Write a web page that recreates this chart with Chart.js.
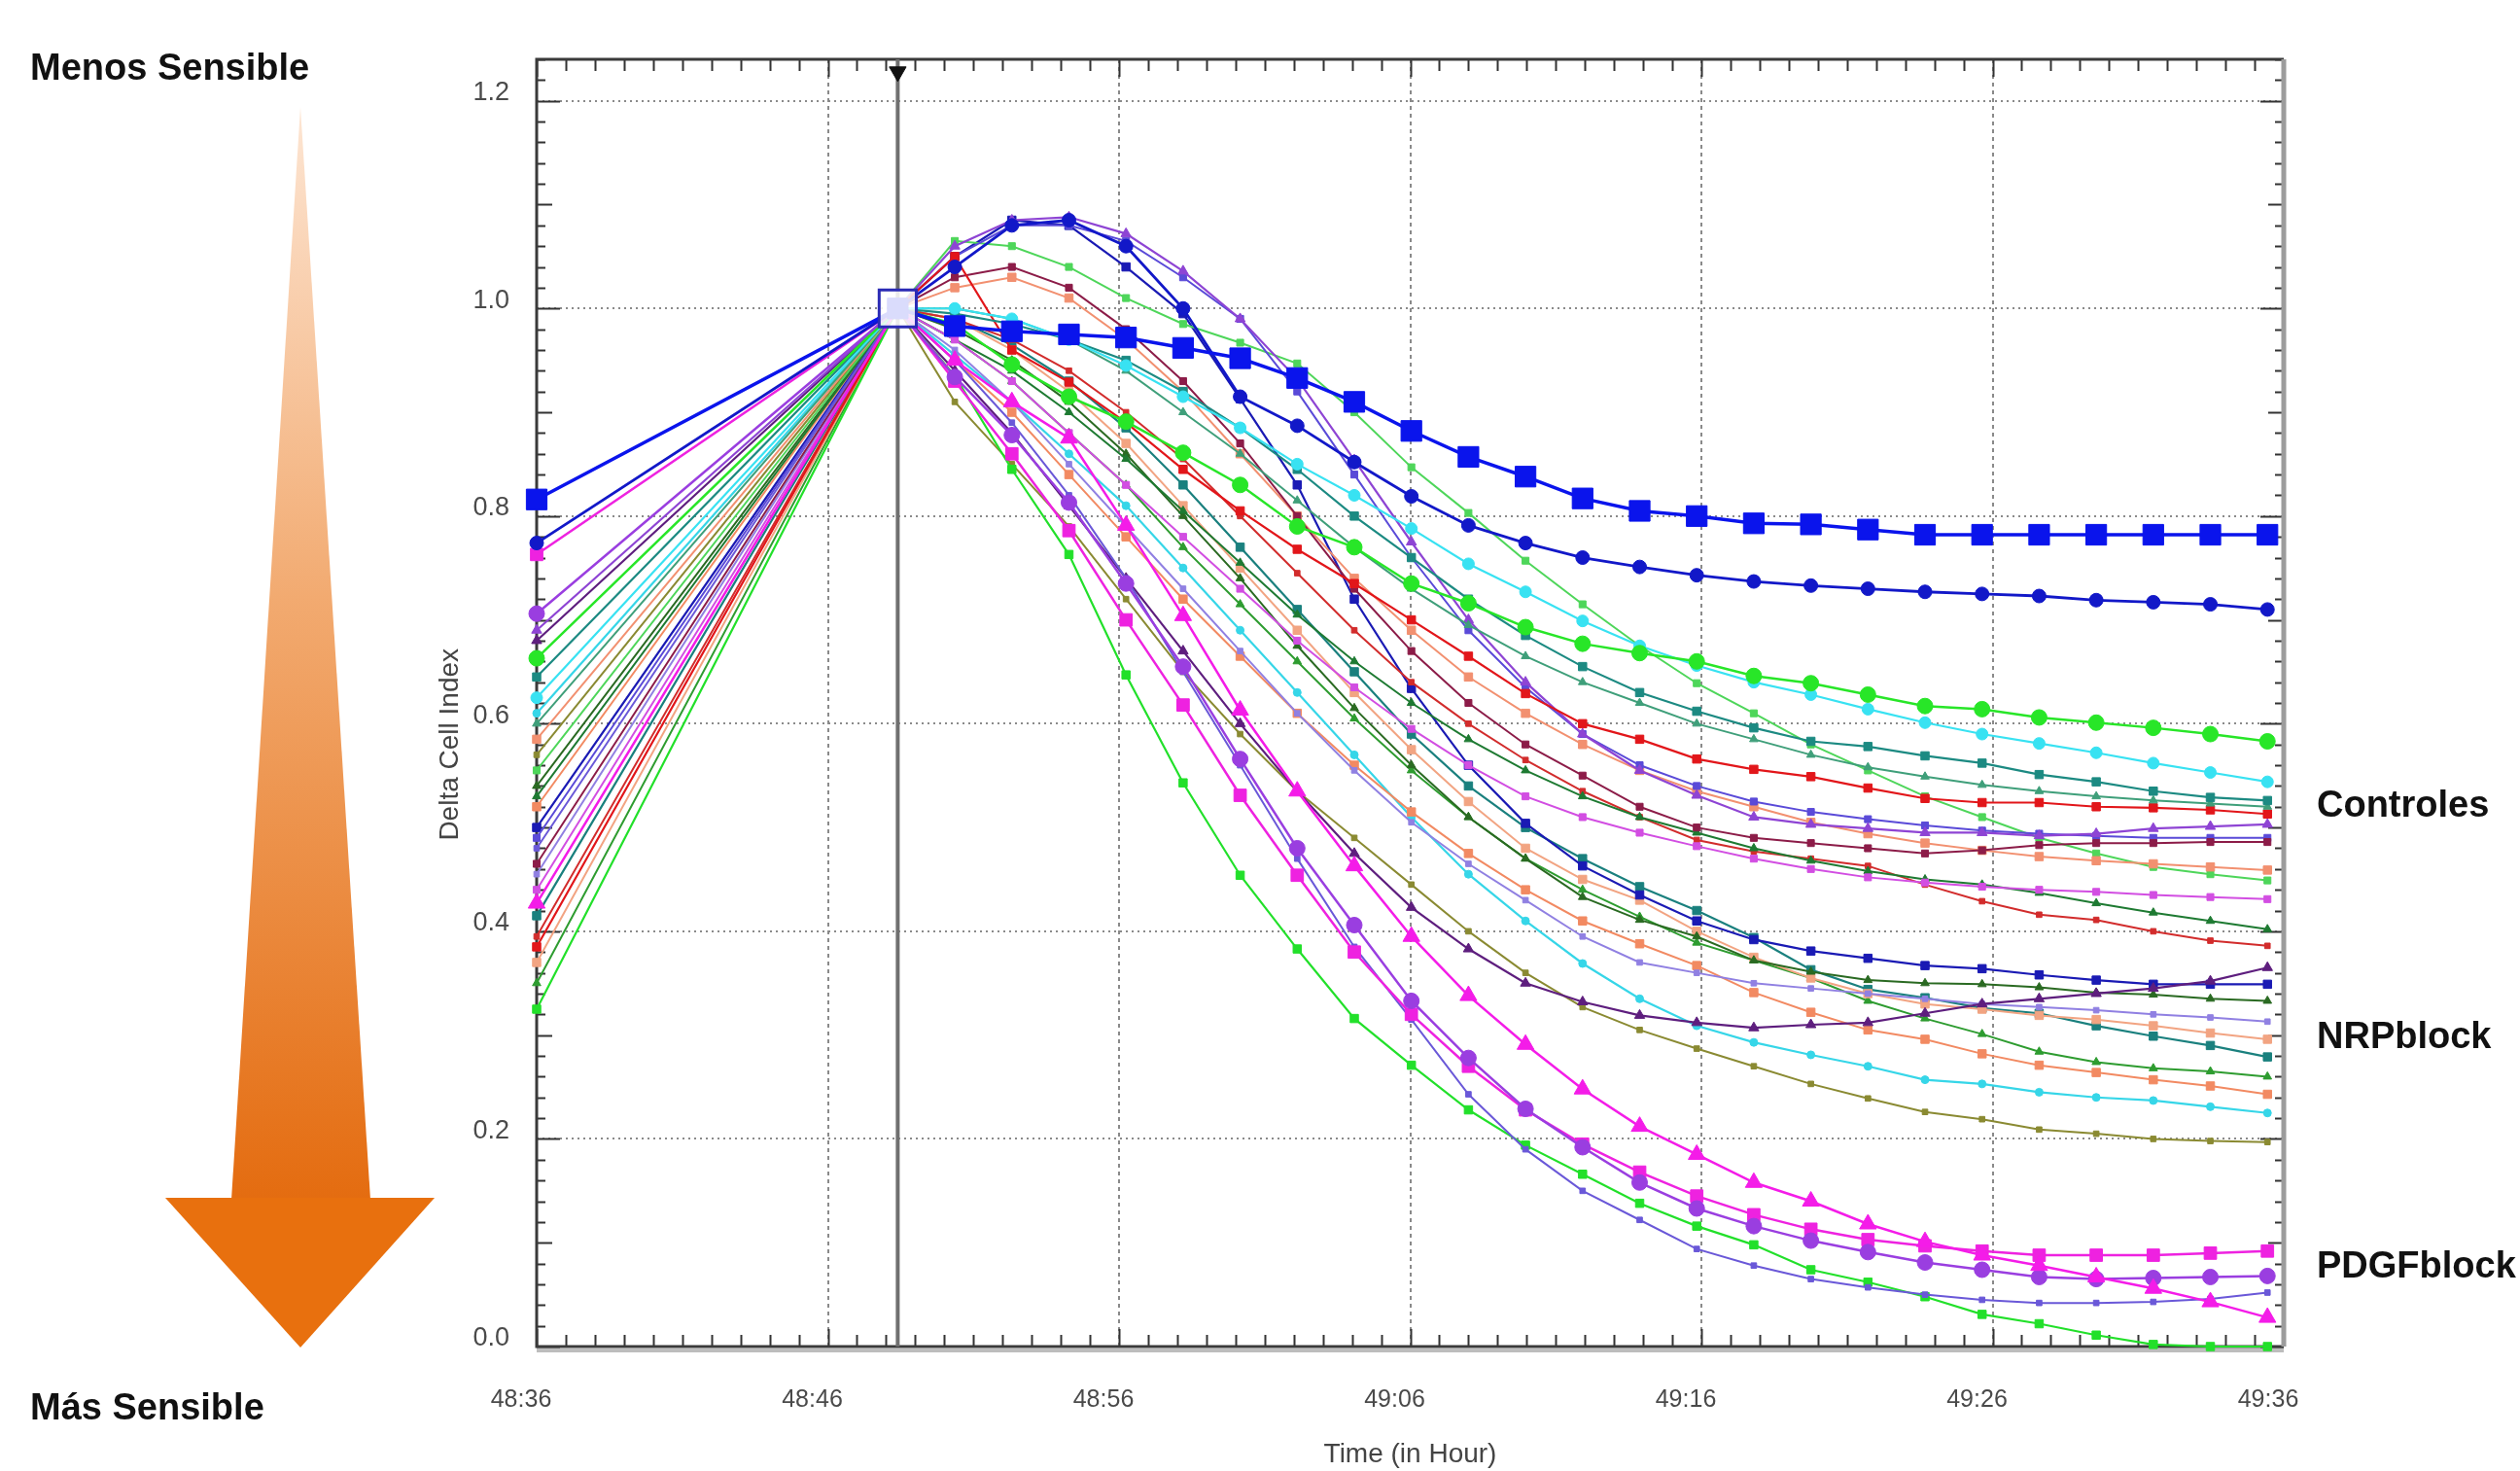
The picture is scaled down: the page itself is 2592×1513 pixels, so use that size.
<!DOCTYPE html>
<html>
<head>
<meta charset="utf-8">
<title>Delta Cell Index</title>
<script src="https://cdn.jsdelivr.net/npm/chart.js@4.4.0/dist/chart.umd.min.js"></script>
<style>
  html, body { margin: 0; padding: 0; background: #fff; }
  #chart { display: block; }
</style>
</head>
<body>
<canvas id="chart" width="2592" height="1513"></canvas>
<script>
// Time axis in minutes after 48:36 (first reading, then normalisation point and every ~2 min)
const times = [0, 12.4, 14.36, 16.32, 18.28, 20.24, 22.2, 24.16, 26.12, 28.08, 30.04, 32.0, 33.96,
    35.92, 37.88, 39.84, 41.8, 43.76, 45.72, 47.68, 49.64, 51.6, 53.56, 55.52, 57.48, 59.44];
const normTime = 12.4;
const topMarkerValue = 1.228;

const xTicks = [0, 10, 20, 30, 40, 50, 60];
const xTickLabels = ['48:36', '48:46', '48:56', '49:06', '49:16', '49:26', '49:36'];
const yTicks = [0, 0.2, 0.4, 0.6, 0.8, 1.0, 1.2];
const yTickLabels = ['0.0', '0.2', '0.4', '0.6', '0.8', '1.0', '1.2'];

// Controles
const ctrlBlueSquares = [0.816, 1.0, 0.983, 0.978, 0.975, 0.972, 0.962, 0.952, 0.933, 0.91, 0.882, 0.857, 0.838, 0.817, 0.805, 0.8, 0.793, 0.792, 0.787, 0.782, 0.782, 0.782, 0.782, 0.782, 0.782, 0.782];
const ctrlBlueCircles = [0.774, 1.0, 1.04, 1.08, 1.085, 1.06, 1.0, 0.915, 0.887, 0.852, 0.819, 0.791, 0.774, 0.76, 0.751, 0.743, 0.737, 0.733, 0.73, 0.727, 0.725, 0.723, 0.719, 0.717, 0.715, 0.71];
const ctrlGreenCircles = [0.663, 1.0, 0.985, 0.946, 0.915, 0.891, 0.861, 0.83, 0.79, 0.77, 0.735, 0.716, 0.693, 0.677, 0.668, 0.66, 0.646, 0.639, 0.628, 0.617, 0.614, 0.606, 0.601, 0.596, 0.59, 0.583];
const ctrlCyan = [0.625, 1.0, 1.0, 0.99, 0.97, 0.945, 0.915, 0.885, 0.85, 0.82, 0.788, 0.754, 0.727, 0.699, 0.675, 0.656, 0.64, 0.628, 0.614, 0.601, 0.59, 0.581, 0.572, 0.562, 0.553, 0.544];
const ctrlTeal = [0.645, 1.0, 0.995, 0.985, 0.97, 0.95, 0.92, 0.885, 0.845, 0.8, 0.76, 0.72, 0.685, 0.655, 0.63, 0.612, 0.596, 0.583, 0.578, 0.569, 0.562, 0.551, 0.544, 0.535, 0.529, 0.526];
const ctrlSeaGreen = [0.6, 1.0, 1.0, 0.99, 0.97, 0.94, 0.9, 0.86, 0.815, 0.77, 0.73, 0.695, 0.665, 0.64, 0.62, 0.6, 0.585, 0.57, 0.558, 0.549, 0.541, 0.535, 0.53, 0.526, 0.523, 0.52];
const ctrlRed = [0.385, 1.0, 1.05, 0.96, 0.929, 0.89, 0.845, 0.805, 0.768, 0.735, 0.7, 0.665, 0.629, 0.6, 0.585, 0.566, 0.556, 0.549, 0.538, 0.528, 0.524, 0.524, 0.52, 0.519, 0.517, 0.513];
const ctrlPurple = [0.69, 1.0, 1.06, 1.085, 1.088, 1.072, 1.036, 0.99, 0.932, 0.854, 0.775, 0.7, 0.64, 0.59, 0.555, 0.531, 0.51, 0.503, 0.499, 0.495, 0.495, 0.492, 0.494, 0.499, 0.501, 0.503];
const ctrlMaroon = [0.465, 1.0, 1.03, 1.04, 1.02, 0.98, 0.93, 0.87, 0.8, 0.73, 0.67, 0.62, 0.58, 0.55, 0.52, 0.5, 0.49, 0.485, 0.48, 0.475, 0.478, 0.483, 0.485, 0.485, 0.486, 0.486];
const ctrlIndigo = [0.49, 1.0, 1.05, 1.08, 1.08, 1.065, 1.03, 0.99, 0.92, 0.84, 0.76, 0.69, 0.635, 0.59, 0.56, 0.54, 0.525, 0.515, 0.508, 0.502, 0.497, 0.494, 0.492, 0.49, 0.49, 0.49];
const ctrlSalmon = [0.585, 1.0, 1.02, 1.03, 1.01, 0.97, 0.92, 0.86, 0.8, 0.74, 0.69, 0.645, 0.61, 0.58, 0.555, 0.535, 0.52, 0.505, 0.494, 0.485, 0.478, 0.472, 0.468, 0.465, 0.462, 0.459];
const ctrlLightGreen = [0.555, 1.0, 1.065, 1.06, 1.04, 1.01, 0.985, 0.967, 0.947, 0.9, 0.847, 0.803, 0.757, 0.715, 0.675, 0.639, 0.61, 0.58, 0.555, 0.53, 0.51, 0.49, 0.475, 0.462, 0.455, 0.449];
const ctrlViolet = [0.44, 1.0, 0.97, 0.93, 0.88, 0.83, 0.78, 0.73, 0.68, 0.635, 0.595, 0.56, 0.53, 0.51, 0.495, 0.482, 0.47, 0.46, 0.452, 0.447, 0.443, 0.44, 0.438, 0.435, 0.433, 0.431];
const ctrlDarkGreen = [0.53, 1.0, 0.97, 0.94, 0.9, 0.855, 0.805, 0.755, 0.705, 0.66, 0.62, 0.585, 0.555, 0.53, 0.51, 0.495, 0.48, 0.468, 0.458, 0.45, 0.445, 0.437, 0.427, 0.418, 0.41, 0.402];
const ctrlRed2 = [0.395, 1.0, 0.99, 0.97, 0.94, 0.9, 0.855, 0.8, 0.745, 0.69, 0.64, 0.6, 0.565, 0.535, 0.51, 0.488, 0.477, 0.47, 0.463, 0.445, 0.429, 0.416, 0.411, 0.4, 0.391, 0.386];

// NRPblock
const nrpDarkPurple = [0.68, 1.0, 0.94, 0.88, 0.81, 0.74, 0.67, 0.6, 0.535, 0.475, 0.423, 0.383, 0.35, 0.332, 0.319, 0.312, 0.307, 0.31, 0.312, 0.321, 0.33, 0.335, 0.34, 0.345, 0.352, 0.365];
const nrpBlue = [0.5, 1.0, 1.05, 1.085, 1.08, 1.04, 0.995, 0.913, 0.83, 0.72, 0.634, 0.56, 0.504, 0.463, 0.435, 0.41, 0.392, 0.381, 0.374, 0.367, 0.364, 0.358, 0.353, 0.349, 0.349, 0.349];
const nrpDarkGreen = [0.54, 1.0, 0.98, 0.95, 0.91, 0.86, 0.8, 0.74, 0.675, 0.615, 0.56, 0.51, 0.47, 0.433, 0.411, 0.395, 0.372, 0.361, 0.353, 0.35, 0.349, 0.346, 0.341, 0.339, 0.335, 0.333];
const nrpLavender = [0.455, 1.0, 0.96, 0.91, 0.85, 0.79, 0.73, 0.67, 0.61, 0.555, 0.505, 0.465, 0.43, 0.395, 0.37, 0.36, 0.35, 0.345, 0.34, 0.335, 0.33, 0.327, 0.324, 0.32, 0.317, 0.313];
const nrpPeach = [0.37, 1.0, 0.99, 0.96, 0.92, 0.87, 0.81, 0.75, 0.69, 0.63, 0.575, 0.525, 0.48, 0.45, 0.43, 0.4, 0.375, 0.355, 0.34, 0.33, 0.325, 0.319, 0.315, 0.309, 0.302, 0.296];
const nrpTeal = [0.415, 1.0, 0.99, 0.965, 0.93, 0.885, 0.83, 0.77, 0.71, 0.65, 0.59, 0.54, 0.5, 0.47, 0.443, 0.42, 0.394, 0.363, 0.344, 0.336, 0.326, 0.321, 0.309, 0.299, 0.29, 0.279];
const nrpGreen = [0.35, 1.0, 0.97, 0.93, 0.88, 0.83, 0.77, 0.715, 0.66, 0.605, 0.555, 0.51, 0.47, 0.44, 0.414, 0.389, 0.372, 0.355, 0.333, 0.316, 0.301, 0.284, 0.274, 0.268, 0.265, 0.26];
const nrpSalmon = [0.52, 1.0, 0.95, 0.9, 0.84, 0.78, 0.72, 0.665, 0.61, 0.56, 0.515, 0.475, 0.44, 0.41, 0.388, 0.367, 0.341, 0.322, 0.305, 0.296, 0.282, 0.271, 0.264, 0.257, 0.251, 0.243];
const nrpCyan = [0.61, 1.0, 0.955, 0.91, 0.86, 0.81, 0.75, 0.69, 0.63, 0.57, 0.51, 0.455, 0.41, 0.369, 0.335, 0.309, 0.293, 0.281, 0.27, 0.257, 0.253, 0.245, 0.24, 0.237, 0.231, 0.225];
const nrpOlive = [0.57, 1.0, 0.91, 0.85, 0.79, 0.72, 0.65, 0.59, 0.535, 0.49, 0.445, 0.4, 0.36, 0.327, 0.305, 0.287, 0.27, 0.253, 0.239, 0.226, 0.219, 0.209, 0.205, 0.2, 0.198, 0.197];

// PDGFblock
const pdgfGreen = [0.325, 1.0, 0.935, 0.845, 0.763, 0.647, 0.543, 0.454, 0.383, 0.316, 0.271, 0.228, 0.194, 0.166, 0.138, 0.116, 0.098, 0.074, 0.062, 0.048, 0.031, 0.022, 0.011, 0.002, 0.0, 0.0];
const pdgfMagentaSquares = [0.763, 1.0, 0.93, 0.86, 0.786, 0.7, 0.618, 0.531, 0.454, 0.38, 0.32, 0.27, 0.228, 0.195, 0.168, 0.145, 0.127, 0.113, 0.103, 0.097, 0.092, 0.088, 0.088, 0.088, 0.09, 0.092];
const pdgfPurpleCircles = [0.706, 1.0, 0.934, 0.878, 0.813, 0.735, 0.655, 0.566, 0.48, 0.406, 0.333, 0.278, 0.229, 0.192, 0.158, 0.133, 0.116, 0.102, 0.091, 0.081, 0.074, 0.067, 0.065, 0.066, 0.067, 0.068];
const pdgfMagentaTriangles = [0.427, 1.0, 0.95, 0.91, 0.875, 0.791, 0.704, 0.613, 0.535, 0.463, 0.395, 0.338, 0.291, 0.248, 0.212, 0.185, 0.158, 0.14, 0.118, 0.101, 0.088, 0.078, 0.067, 0.056, 0.043, 0.028];
const pdgfBlueViolet = [0.48, 1.0, 0.95, 0.89, 0.82, 0.74, 0.65, 0.56, 0.47, 0.385, 0.315, 0.243, 0.19, 0.15, 0.122, 0.094, 0.078, 0.065, 0.057, 0.05, 0.045, 0.042, 0.042, 0.043, 0.046, 0.052];

// drawing order: first entry ends up on top
const seriesList = [
    { data: ctrlBlueSquares, color: '#0a14ec', style: 'rect', r: 15, w: 3.5 },
    { data: ctrlBlueCircles, color: '#1218c8', style: 'circle', r: 7, w: 2.8 },
    { data: pdgfMagentaTriangles, color: '#f41ce8', style: 'triangle', r: 10, w: 2.5 },
    { data: pdgfPurpleCircles, color: '#9a3ee0', style: 'circle', r: 8, w: 2.5 },
    { data: pdgfMagentaSquares, color: '#ee22e0', style: 'rect', r: 9, w: 2.5 },
    { data: pdgfBlueViolet, color: '#6a58d8', style: 'rect', r: 4, w: 2 },
    { data: pdgfGreen, color: '#22e02a', style: 'rect', r: 6, w: 2.2 },
    { data: ctrlGreenCircles, color: '#28e628', style: 'circle', r: 8, w: 2.5 },
    { data: ctrlCyan, color: '#38e2f2', style: 'circle', r: 6, w: 2.2 },
    { data: ctrlTeal, color: '#1c8a82', style: 'rect', r: 6, w: 2.2 },
    { data: ctrlSeaGreen, color: '#3f9f7a', style: 'triangle', r: 5, w: 2 },
    { data: ctrlRed, color: '#e2161a', style: 'rect', r: 6, w: 2.2 },
    { data: ctrlPurple, color: '#8e44d4', style: 'triangle', r: 6, w: 2.2 },
    { data: ctrlMaroon, color: '#8c1c48', style: 'rect', r: 5, w: 2 },
    { data: ctrlIndigo, color: '#5a4ad8', style: 'rect', r: 5, w: 2 },
    { data: ctrlSalmon, color: '#f29070', style: 'rect', r: 6, w: 2 },
    { data: ctrlLightGreen, color: '#4ed65a', style: 'rect', r: 5, w: 2 },
    { data: ctrlViolet, color: '#d24ee2', style: 'rect', r: 5, w: 2 },
    { data: ctrlDarkGreen, color: '#1e7a32', style: 'triangle', r: 5, w: 2 },
    { data: ctrlRed2, color: '#d22c2c', style: 'rect', r: 4, w: 2 },
    { data: nrpDarkPurple, color: '#5e1e7e', style: 'triangle', r: 6, w: 2.2 },
    { data: nrpBlue, color: '#1a1ab4', style: 'rect', r: 6, w: 2.2 },
    { data: nrpDarkGreen, color: '#2a6a22', style: 'triangle', r: 5, w: 2 },
    { data: nrpLavender, color: '#9080e2', style: 'rect', r: 4, w: 2 },
    { data: nrpPeach, color: '#f2a482', style: 'rect', r: 6, w: 2 },
    { data: nrpTeal, color: '#1a807e', style: 'rect', r: 6, w: 2.2 },
    { data: nrpGreen, color: '#2e9c30', style: 'triangle', r: 5, w: 2 },
    { data: nrpSalmon, color: '#f28a62', style: 'rect', r: 6, w: 2 },
    { data: nrpCyan, color: '#36d6e8', style: 'circle', r: 4, w: 2.2 },
    { data: nrpOlive, color: '#8a8a32', style: 'rect', r: 4, w: 2 }
];

const FONT = '"Liberation Sans", Arial, sans-serif';

function toPoints(values) {
    return values.map((v, i) => ({ x: times[i], y: v }));
}

const datasets = [];

// open square at the normalisation point
datasets.push({
    data: [{ x: normTime, y: 1.0 }],
    showLine: false,
    pointStyle: 'rect',
    pointRadius: 27,
    pointBorderWidth: 3,
    pointBorderColor: '#2a2ab4',
    pointBackgroundColor: 'rgba(255,255,255,0.85)'
});

// black marker above the normalisation line
datasets.push({
    data: [{ x: normTime, y: topMarkerValue }],
    showLine: false,
    pointStyle: 'triangle',
    rotation: 180,
    pointRadius: 10,
    pointBorderWidth: 1,
    pointBorderColor: '#111',
    pointBackgroundColor: '#111'
});

seriesList.forEach(s => {
    datasets.push({
        data: toPoints(s.data),
        borderColor: s.color,
        backgroundColor: s.color,
        borderWidth: s.w,
        pointStyle: s.style,
        pointRadius: s.r,
        pointBorderWidth: 1,
        pointBorderColor: s.color,
        pointBackgroundColor: s.color,
        tension: 0
    });
});

// vertical normalisation line, drawn underneath everything
datasets.push({
    data: [{ x: normTime, y: 0 }, { x: normTime, y: 1.24 }],
    borderColor: '#707070',
    borderWidth: 4,
    pointRadius: 0
});

const decorPlugin = {
    id: 'decor',
    beforeDraw(chart) {
        const ctx = chart.ctx;
        ctx.save();
        ctx.fillStyle = '#fff';
        ctx.fillRect(0, 0, chart.width, chart.height);
        ctx.restore();
    },
    beforeDatasetsDraw(chart) {
        const { ctx, chartArea: a, scales: { x, y } } = chart;
        ctx.save();

        // minor ticks
        ctx.strokeStyle = '#333';
        ctx.lineWidth = 2;
        ctx.beginPath();
        for (let m = 0; m <= 60; m++) {
            const px = Math.round(x.getPixelForValue(m)) + 0.5;
            const len = m % 10 === 0 ? 18 : 12;
            ctx.moveTo(px, a.bottom); ctx.lineTo(px, a.bottom - len);
            ctx.moveTo(px, a.top); ctx.lineTo(px, a.top + len);
        }
        for (let k = 0; k <= 62; k++) {
            const py = Math.round(y.getPixelForValue(k * 0.02)) + 0.5;
            const len = k % 10 === 0 ? 24 : (k % 5 === 0 ? 16 : 9);
            ctx.moveTo(a.left, py); ctx.lineTo(a.left + len, py);
            ctx.moveTo(a.right, py); ctx.lineTo(a.right - len, py);
        }
        ctx.stroke();

        // frame
        ctx.strokeStyle = '#3a3a3a';
        ctx.lineWidth = 3;
        ctx.beginPath();
        ctx.moveTo(a.right, a.top);
        ctx.lineTo(a.left, a.top);
        ctx.lineTo(a.left, a.bottom);
        ctx.lineTo(a.right, a.bottom);
        ctx.stroke();
        ctx.strokeStyle = '#bdbdbd';
        ctx.lineWidth = 4;
        ctx.beginPath();
        ctx.moveTo(a.left, a.bottom + 4);
        ctx.lineTo(a.right, a.bottom + 4);
        ctx.stroke();
        ctx.strokeStyle = '#9c9c9c';
        ctx.lineWidth = 5;
        ctx.beginPath();
        ctx.moveTo(a.right, a.top);
        ctx.lineTo(a.right, a.bottom);
        ctx.stroke();
        ctx.restore();
    },
    afterDraw(chart) {
        const ctx = chart.ctx;
        ctx.save();

        // sensitivity arrow
        const g = ctx.createLinearGradient(0, 110, 0, 1234);
        g.addColorStop(0, '#fde6d4');
        g.addColorStop(0.45, '#f2aa70');
        g.addColorStop(1, '#e46c10');
        ctx.fillStyle = g;
        ctx.beginPath();
        ctx.moveTo(309, 110);
        ctx.lineTo(381, 1234);
        ctx.lineTo(238, 1234);
        ctx.closePath();
        ctx.fill();
        ctx.fillStyle = '#e8700e';
        ctx.beginPath();
        ctx.moveTo(170, 1232);
        ctx.lineTo(447, 1232);
        ctx.lineTo(309, 1386);
        ctx.closePath();
        ctx.fill();

        ctx.fillStyle = '#111';
        ctx.font = 'bold 38px ' + FONT;
        ctx.textAlign = 'left';
        ctx.textBaseline = 'alphabetic';
        ctx.fillText('Menos Sensible', 31, 82);
        ctx.fillText('Más Sensible', 31, 1460);
        ctx.fillText('Controles', 2383, 840);
        ctx.fillText('NRPblock', 2383, 1078);
        ctx.fillText('PDGFblock', 2383, 1314);
        ctx.restore();
    }
};

new Chart(document.getElementById('chart'), {
    type: 'line',
    data: { datasets: datasets },
    plugins: [decorPlugin],
    options: {
        responsive: false,
        animation: false,
        devicePixelRatio: 1,
        datasets: { line: { clip: false } },
        layout: { padding: { left: 0, top: 61, right: 243, bottom: 0 } },
        plugins: {
            legend: { display: false },
            tooltip: { enabled: false }
        },
        scales: {
            x: {
                type: 'linear',
                min: 0,
                max: 60,
                afterBuildTicks: (scale) => { scale.ticks = xTicks.map(v => ({ value: v })); },
                afterFit: (scale) => { scale.height = 128; },
                ticks: {
                    callback: (value) => xTickLabels[xTicks.indexOf(value)],
                    font: { family: FONT, size: 25 },
                    color: '#4a4a4a',
                    padding: 40,
                    labelOffset: -16,
                    maxRotation: 0,
                    autoSkip: false
                },
                grid: { color: '#8a8a8a', lineWidth: 2, drawTicks: false },
                border: { display: false, dash: [4, 4] },
                title: {
                    display: true,
                    text: 'Time (in Hour)',
                    font: { family: FONT, size: 28 },
                    color: '#444',
                    padding: { top: 0, bottom: 0 }
                }
            },
            y: {
                type: 'linear',
                min: 0,
                max: 1.24,
                afterBuildTicks: (scale) => { scale.ticks = yTicks.map(v => ({ value: v })); },
                afterFit: (scale) => { scale.width = 552; },
                ticks: {
                    callback: (value) => yTickLabels[yTicks.indexOf(value)],
                    font: { family: FONT, size: 27 },
                    color: '#4a4a4a',
                    padding: 28,
                    labelOffset: -8,
                    autoSkip: false
                },
                grid: { color: '#8a8a8a', lineWidth: 2, drawTicks: false },
                border: { display: false, dash: [2, 4] },
                title: {
                    display: true,
                    // trailing spaces push the rotated title down to where the original sits
                    text: 'Delta Cell Index\u00a0\u00a0\u00a0\u00a0\u00a0\u00a0\u00a0\u00a0\u00a0\u00a0\u00a0',
                    font: { family: FONT, size: 28 },
                    color: '#444',
                    padding: { top: 446, bottom: 0 }
                }
            }
        }
    }
});
</script>
</body>
</html>
